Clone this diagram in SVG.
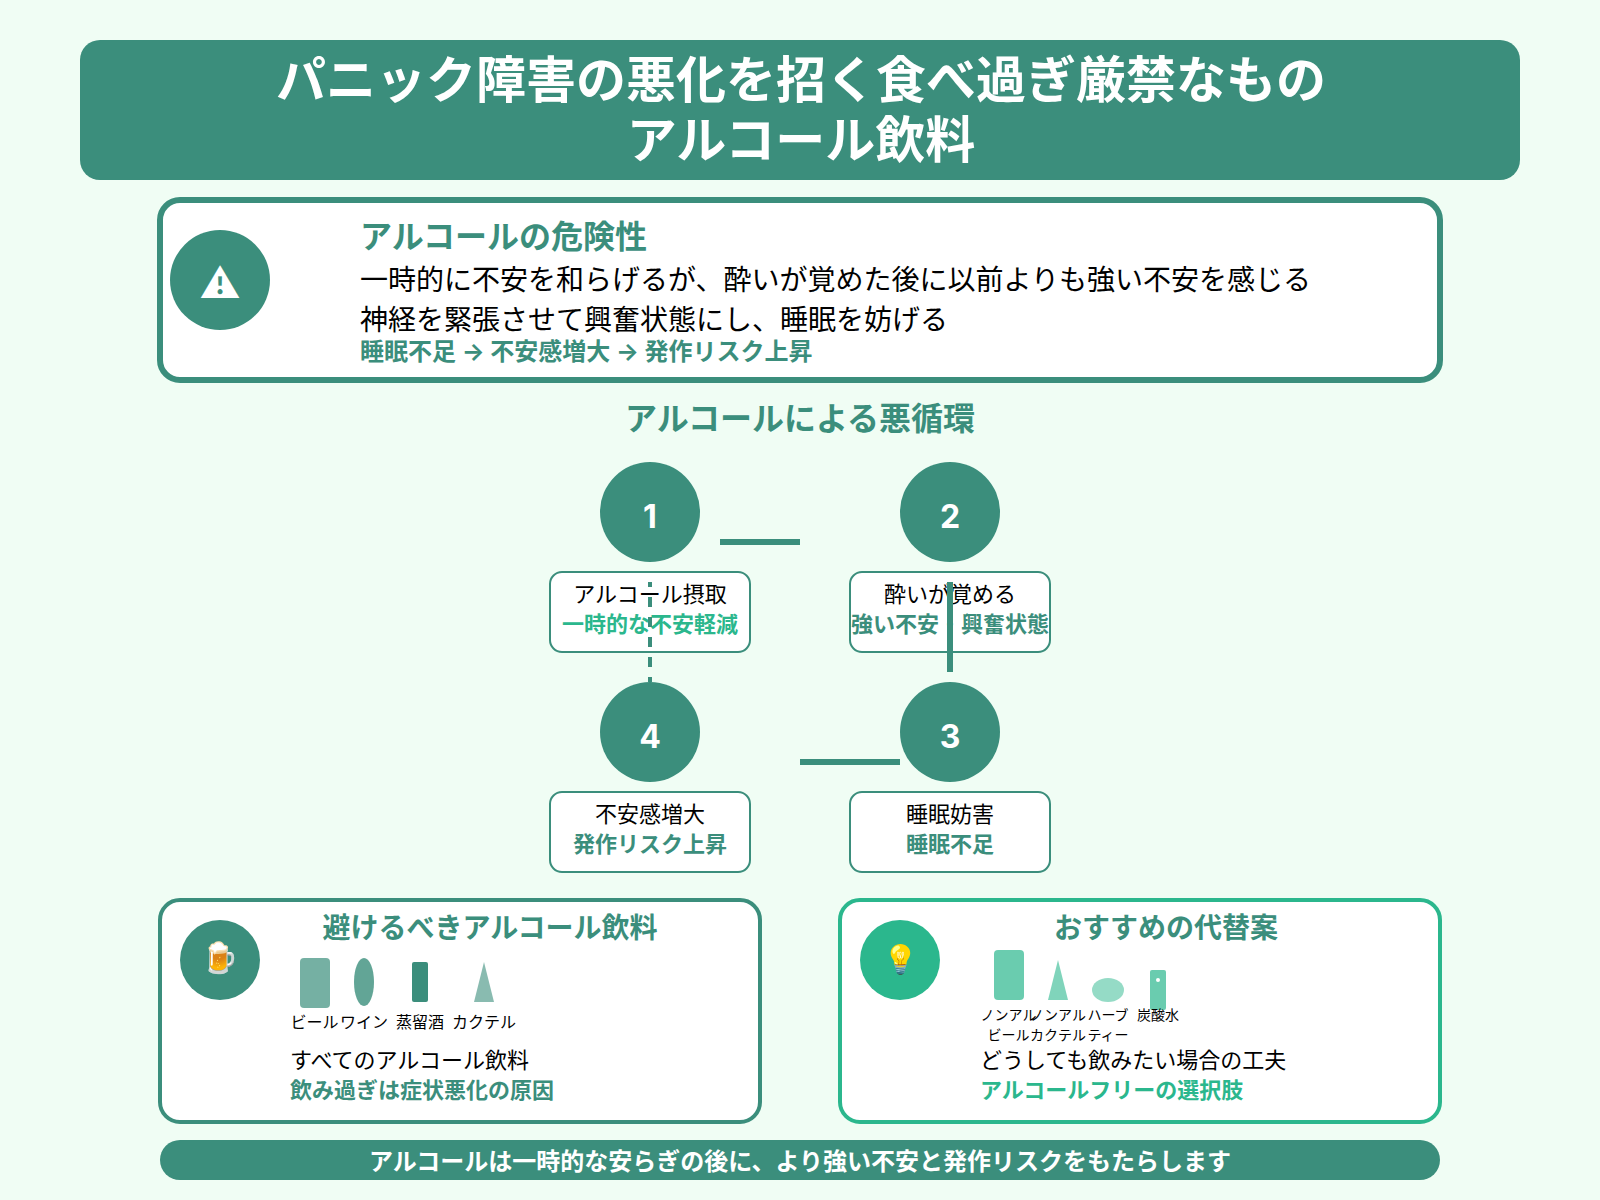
<svg xmlns="http://www.w3.org/2000/svg" width="1600" height="1200" viewBox="0 0 1600 1200">
<style>
text{font-family:Inter,"Noto Sans CJK JP","Noto Sans",sans-serif;}
.b{font-weight:700}
.m{text-anchor:middle}
.p{fill:#3b8e7c}
.a{fill:#2bb78d}
.k{fill:#000}
.w{fill:#fff}
.lb{fill:#fff;stroke:#3b8e7c;stroke-width:2}
.num{font-size:32px;font-weight:700;fill:#fff;text-anchor:middle}
.t22{font-size:22px}
.conn{stroke:#3b8e7c;stroke-width:6;fill:none}
</style>
<rect width="1600" height="1200" fill="#f0fdf4"/>
<g id="header">
<rect x="80" y="40" width="1440" height="140" rx="20" class="p"/>
<text x="801" y="98" class="b m w" font-size="50">パニック障害の悪化を招く食べ過ぎ厳禁なもの</text>
<text x="801" y="158" class="b m w" font-size="50">アルコール飲料</text>
</g>
<g id="danger">
<rect x="160" y="200" width="1280" height="180" rx="20" fill="#fff" stroke="#3b8e7c" stroke-width="6"/>
<circle cx="220" cy="280" r="50" class="p"/>
<text x="220" y="297.5" class="m w" font-size="40">⚠︎</text>
<text x="360" y="248" class="b p" font-size="32">アルコールの危険性</text>
<text x="360" y="290" class="k" font-size="28">一時的に不安を和らげるが、酔いが覚めた後に以前よりも強い不安を感じる</text>
<text x="360" y="330" class="k" font-size="28">神経を緊張させて興奮状態にし、睡眠を妨げる</text>
<text x="360" y="360" class="b p" font-size="24">睡眠不足 → 不安感増大 → 発作リスク上昇</text>
</g>
<text id="cycle-title" x="800" y="430" class="b m p" font-size="32">アルコールによる悪循環</text>
<g id="label1"><rect x="550" y="572" width="200" height="80" rx="12" class="lb"/>
<text x="650" y="602" class="m k t22">アルコール摂取</text><text x="650" y="632" class="b m a t22">一時的な不安軽減</text></g>
<g id="label2"><rect x="850" y="572" width="200" height="80" rx="12" class="lb"/>
<text x="950" y="602" class="m k t22">酔いが覚める</text><text x="950" y="632" class="b m p t22">強い不安・興奮状態</text></g>
<g id="label3"><rect x="850" y="792" width="200" height="80" rx="12" class="lb"/>
<text x="950" y="822" class="m k t22">睡眠妨害</text><text x="950" y="852" class="b m p t22">睡眠不足</text></g>
<g id="label4"><rect x="550" y="792" width="200" height="80" rx="12" class="lb"/>
<text x="650" y="822" class="m k t22">不安感増大</text><text x="650" y="852" class="b m p t22">発作リスク上昇</text></g>
<g id="connectors">
<line x1="720" y1="542" x2="800" y2="542" class="conn"/>
<line x1="950" y1="582" x2="950" y2="672" class="conn"/>
<line x1="800" y1="762" x2="900" y2="762" class="conn"/>
<line x1="650" y1="582" x2="650" y2="682" stroke="#3b8e7c" stroke-width="4" stroke-dasharray="10 10" stroke-dashoffset="5"/>
</g>
<g id="step1"><circle cx="650" cy="512" r="50" class="p"/><text x="650" y="528" class="num">1</text></g>
<g id="step2"><circle cx="950" cy="512" r="50" class="p"/><text x="950" y="528" class="num">2</text></g>
<g id="step3"><circle cx="950" cy="732" r="50" class="p"/><text x="950" y="748" class="num">3</text></g>
<g id="step4"><circle cx="650" cy="732" r="50" class="p"/><text x="650" y="748" class="num">4</text></g>
<g id="avoid">
<rect x="160" y="900" width="600" height="222" rx="20" fill="#fff" stroke="#3b8e7c" stroke-width="4"/>
<circle cx="220" cy="960" r="40" class="p"/>
<text x="219" y="968" class="m" font-size="30">🍺</text>
<text x="490" y="938" class="b m p" font-size="28">避けるべきアルコール飲料</text>
<rect x="300" y="958" width="30" height="50" rx="4" class="p" opacity=".7"/>
<ellipse cx="364" cy="982" rx="10" ry="24" class="p" opacity=".8"/>
<rect x="412" y="962" width="16" height="40" rx="2" class="p"/>
<path d="M484 962L494 1002H474Z" class="p" opacity=".6"/>
<g class="k" font-size="16">
<text x="314.5" y="1028" class="m">ビール</text><text x="364" y="1028" class="m">ワイン</text><text x="420" y="1028" class="m">蒸留酒</text><text x="484" y="1028" class="m">カクテル</text>
</g>
<text x="290" y="1068" class="k t22">すべてのアルコール飲料</text>
<text x="290" y="1098" class="b p t22">飲み過ぎは症状悪化の原因</text>
</g>
<g id="alt">
<rect x="840" y="900" width="600" height="222" rx="20" fill="#fff" stroke="#2bb78d" stroke-width="4"/>
<circle cx="900" cy="960" r="40" class="a"/>
<text x="900" y="969" class="m" font-size="28">💡</text>
<text x="1166" y="938" class="b m p" font-size="28">おすすめの代替案</text>
<rect x="994" y="950" width="30" height="50" rx="4" class="a" opacity=".7"/>
<path d="M1058 960L1068 1000H1048Z" class="a" opacity=".6"/>
<ellipse cx="1108" cy="990" rx="16" ry="12" class="a" opacity=".5"/>
<rect x="1150" y="970" width="16" height="40" rx="2" class="a" opacity=".7"/>
<circle cx="1158" cy="980" r="2" fill="#fff"/>
<g class="k" font-size="14">
<text x="1008.5" y="1020" class="m">ノンアル</text><text x="1008.5" y="1040" class="m">ビール</text>
<text x="1058" y="1020" class="m">ノンアル</text><text x="1058" y="1040" class="m">カクテル</text>
<text x="1108" y="1020" class="m">ハーブ</text><text x="1108" y="1040" class="m">ティー</text>
<text x="1158" y="1020" class="m">炭酸水</text>
</g>
<text x="980" y="1068" class="k t22">どうしても飲みたい場合の工夫</text>
<text x="980" y="1098" class="b a t22">アルコールフリーの選択肢</text>
</g>
<g id="footer">
<rect x="160" y="1140" width="1280" height="40" rx="20" class="p"/>
<text x="800" y="1170" class="b m w" font-size="24">アルコールは一時的な安らぎの後に、より強い不安と発作リスクをもたらします</text>
</g>
</svg>
